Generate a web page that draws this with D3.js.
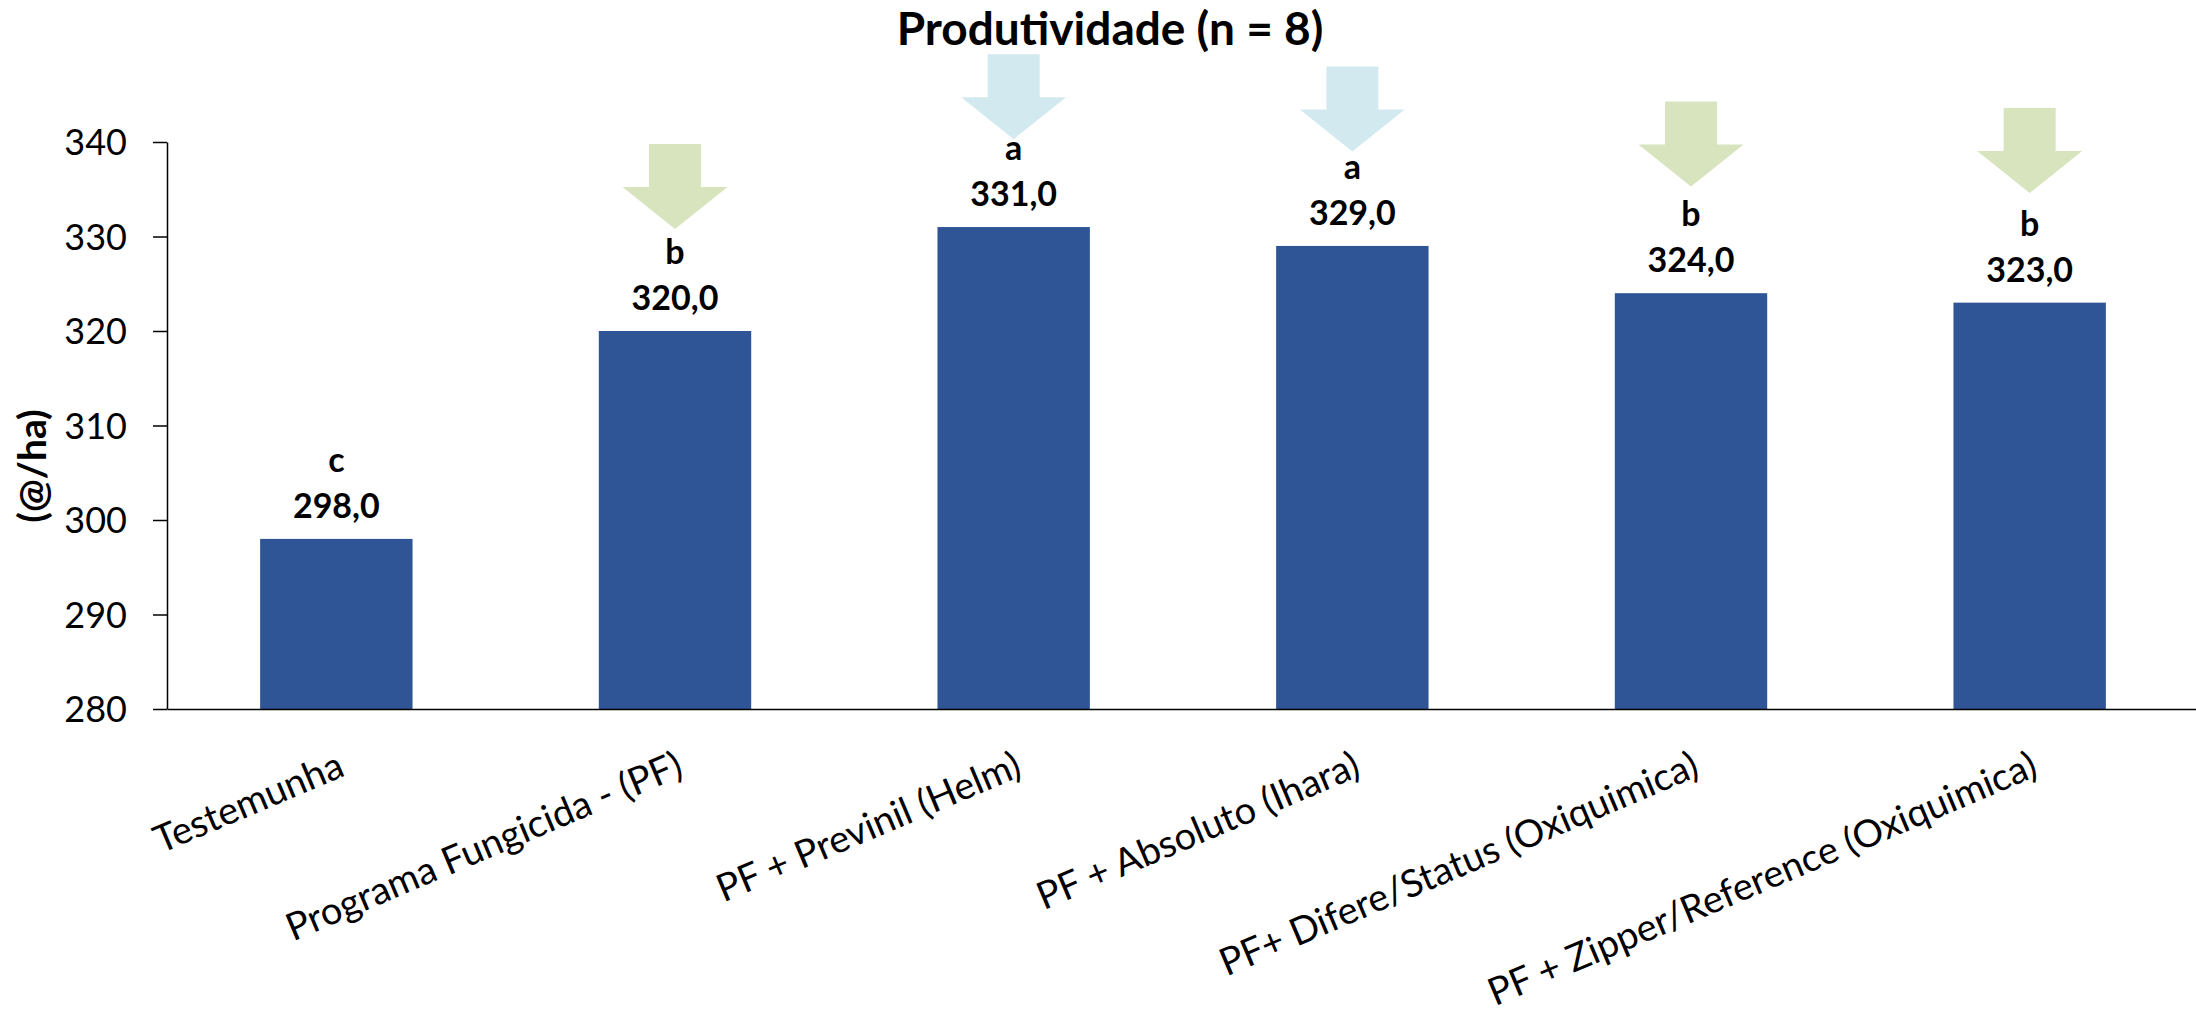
<!DOCTYPE html>
<html>
<head>
<meta charset="utf-8">
<script src="https://cdn.jsdelivr.net/npm/d3@7"></script>
<style>
  html, body { margin: 0; padding: 0; background: #ffffff; }
  svg { display: block; }
</style>
</head>
<body>
<script>
// ---- Data ----
const categories = [
  "Testemunha",
  "Programa Fungicida - (PF)",
  "PF + Previnil (Helm)",
  "PF + Absoluto (Ihara)",
  "PF+ Difere/Status (Oxiquimica)",
  "PF + Zipper/Reference (Oxiquimica)"
];
const values = [298.0, 320.0, 331.0, 329.0, 324.0, 323.0];
const letters = ["c", "b", "a", "a", "b", "b"];
// arrow annotations: tip position expressed in axis units, and group colour key
const arrowTips = [null, 330.8, 340.3, 339.0, 335.3, 334.6];
const arrowGroups = [null, "green", "blue", "blue", "green", "green"];
const yTicks = [280, 290, 300, 310, 320, 330, 340];
const titleText = "Produtividade (n = 8)";
const yLabel = "(@/ha)";

// ---- Layout ----
const W = 2196, H = 1015;
const arrowColor = { green: "#D7E4BD", blue: "#D3E9F0" };

const svg = d3.select("body").append("svg")
  .attr("width", W).attr("height", H)
  .attr("viewBox", `0 0 ${W} ${H}`);
svg.append("rect").attr("width", W).attr("height", H).attr("fill", "#ffffff");

const x = d3.scaleBand().domain(categories).range([167, 2199])
  .paddingInner(0.55).paddingOuter(0.275);
const y = d3.scaleLinear().domain([280, 340]).range([709, 142]);

const fmt = v => d3.format(".1f")(v).replace(".", ",");

// Bars
svg.append("g").selectAll("rect").data(values).join("rect")
  .attr("x", (d, i) => x(categories[i]))
  .attr("width", x.bandwidth())
  .attr("y", d => y(d))
  .attr("height", d => y(280) - y(d))
  .attr("fill", "#2F5597");

// Y axis
const yAxis = svg.append("g").attr("transform", "translate(167,0)")
  .call(d3.axisLeft(y).tickValues(yTicks).tickSize(14).tickSizeOuter(0).tickFormat(d3.format("d")));
yAxis.select(".domain").attr("stroke", "#000").attr("stroke-width", 1.5);
yAxis.selectAll(".tick line").attr("stroke", "#000").attr("stroke-width", 1.5);
yAxis.selectAll(".tick text")
  .attr("x", -40)
  .attr("dy", "0.36em")
  .attr("fill", "#000")
  .style("font-family", "Lato, sans-serif")
  .style("font-size", "36px");

// X axis
const xAxis = svg.append("g").attr("transform", "translate(0,709)")
  .call(d3.axisBottom(x).tickSize(0).tickSizeOuter(0));
xAxis.select(".domain").attr("stroke", "#000").attr("stroke-width", 1.5);
xAxis.selectAll(".tick text")
  .attr("x", 0).attr("y", 0).attr("dy", 0)
  .attr("text-anchor", "end")
  .attr("transform", "translate(10,66) rotate(-23)")
  .attr("fill", "#000")
  .style("font-family", "Lato, sans-serif")
  .style("font-size", "38px");

// Arrows
const arrowPath = (cx, ty) => {
  const hw = 52.5, sw = 26, hh = 42, sh = 43;
  return `M${cx},${ty} L${cx - hw},${ty - hh} L${cx - sw},${ty - hh} L${cx - sw},${ty - hh - sh} ` +
         `L${cx + sw},${ty - hh - sh} L${cx + sw},${ty - hh} L${cx + hw},${ty - hh} Z`;
};
svg.append("g").selectAll("path")
  .data(arrowTips.map((t, i) => ({ t, i })).filter(d => d.t !== null))
  .join("path")
  .attr("d", d => arrowPath(x(categories[d.i]) + x.bandwidth() / 2, y(d.t)))
  .attr("fill", d => arrowColor[arrowGroups[d.i]]);

// Value labels
const lab = svg.append("g")
  .style("font-family", "Lato, sans-serif")
  .style("font-weight", "bold")
  .style("font-size", "34px")
  .attr("text-anchor", "middle")
  .attr("fill", "#000");
lab.selectAll("text.val").data(values).join("text").attr("class", "val")
  .attr("x", (d, i) => x(categories[i]) + x.bandwidth() / 2)
  .attr("y", d => y(d) - 21)
  .text(d => fmt(d));
lab.selectAll("text.let").data(letters).join("text").attr("class", "let")
  .attr("x", (d, i) => x(categories[i]) + x.bandwidth() / 2)
  .attr("y", (d, i) => y(values[i]) - 67)
  .text(d => d);

// Title
svg.append("text")
  .attr("x", 1110).attr("y", 45)
  .attr("text-anchor", "middle")
  .style("font-family", "Lato, sans-serif")
  .style("font-weight", "bold")
  .style("font-size", "46px")
  .attr("fill", "#000")
  .text(titleText);

// Y label
svg.append("text")
  .attr("transform", "translate(46,466) rotate(-90)")
  .attr("text-anchor", "middle")
  .style("font-family", "Lato, sans-serif")
  .style("font-weight", "bold")
  .style("font-size", "39px")
  .attr("fill", "#000")
  .text(yLabel);
</script>
</body>
</html>
